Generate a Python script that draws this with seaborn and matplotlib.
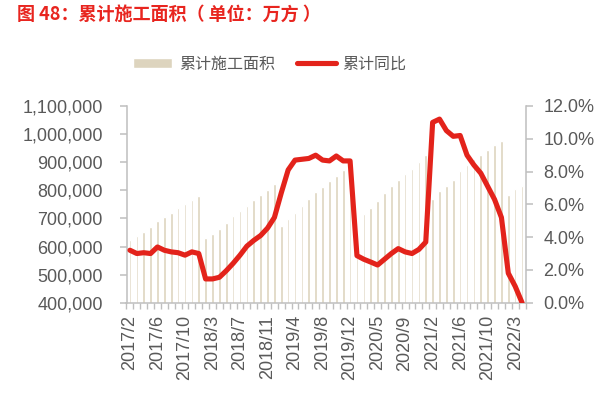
import numpy as np
import pandas as pd
import matplotlib
matplotlib.use("Agg")
import matplotlib.pyplot as plt
import seaborn as sns
from matplotlib.ticker import FuncFormatter, FixedLocator

# ---- data -------------------------------------------------------------
months_2017 = ["2017/%d" % m for m in range(2, 13)]
months_2018 = ["2018/%d" % m for m in range(2, 13)]
months_2019 = ["2019/%d" % m for m in range(2, 13)]
months_2020 = ["2020/%d" % m for m in range(2, 13)]
months_2021 = ["2021/%d" % m for m in range(2, 13)]
months_2022 = ["2022/2", "2022/3", "2022/4"]
categories = months_2017 + months_2018 + months_2019 + months_2020 + months_2021 + months_2022

area = [
    624000, 636000, 652000, 670000, 692000, 706000, 720000, 737000, 751000, 767000, 781000,
    632000, 645000, 663000, 685000, 708000, 727000, 745000, 767000, 783000, 802000, 822000,
    674000, 698000, 719000, 743000, 769000, 793000, 811000, 833000, 851000, 873000, 893000,
    560000, 717000, 738000, 762000, 792000, 817000, 838000, 858000, 877000, 901000, 925000,
    769000, 798000, 817000, 838000, 870000, 890000, 910000, 927000, 942000, 960000, 974000,
    784000, 805000, 817000,
]
yoy = [
    3.2, 3.0, 3.05, 3.0, 3.4, 3.2, 3.1, 3.05, 2.9, 3.1, 3.0,
    1.45, 1.45, 1.55, 1.95, 2.4, 2.9, 3.45, 3.8, 4.1, 4.55, 5.2,
    6.7, 8.1, 8.7, 8.75, 8.8, 9.0, 8.7, 8.65, 8.95, 8.65, 8.65,
    2.87, 2.65, 2.48, 2.3, 2.65, 3.0, 3.3, 3.1, 3.0, 3.25, 3.7,
    11.0, 11.2, 10.5, 10.15, 10.2, 9.0, 8.4, 7.9, 7.1, 6.3, 5.2,
    1.8, 1.0, 0.0,
]
left_ticks = [400000, 500000, 600000, 700000, 800000, 900000, 1000000, 1100000]
right_ticks = [0, 2, 4, 6, 8, 10, 12]

title = "图 48：累计施工面积（ 单位：万方 ）"
bar_label = "累计施工面积"
line_label = "累计同比"

# ---- style ------------------------------------------------------------
sns.set_style("white")
plt.rcParams["font.family"] = ["Liberation Sans", "Noto Sans CJK SC", "DejaVu Sans"]

TXT = "#595959"
AX = "#BFBFBF"
BAR = "#DDD4BE"
RED = "#E3231B"

df = pd.DataFrame({"month": categories, "area": area, "yoy": yoy})
df["pos"] = np.arange(len(df))

fig = plt.figure(figsize=(6.03, 3.97), dpi=100)
ax = fig.add_axes([126.5 / 603, 94.3 / 397, 399 / 603, 196.7 / 397])

sns.barplot(data=df, x="month", y="area", order=categories, color=BAR,
            saturation=1, width=0.38, ax=ax, label=bar_label)
ax.set_ylim(400000, 1100000)
ax.set_xlim(-0.5, len(categories) - 0.5)

ax2 = ax.twinx()
sns.lineplot(data=df, x="pos", y="yoy", color=RED, linewidth=3.7, ax=ax2,
             label=line_label, solid_capstyle="round", solid_joinstyle="round")
ax2.set_ylim(0, 12)
ax2.set_xlim(-0.5, len(categories) - 0.5)

# axes styling
for a in (ax, ax2):
    a.set_xlabel("")
    a.set_ylabel("")
    for s in a.spines.values():
        s.set_visible(False)
    if a.get_legend():
        a.get_legend().remove()

ax.spines["left"].set_visible(True)
ax.spines["left"].set_color(AX)
ax.spines["left"].set_linewidth(1.1)
ax.spines["bottom"].set_visible(True)
ax.spines["bottom"].set_color(AX)
ax.spines["bottom"].set_linewidth(1.1)
ax2.spines["right"].set_visible(True)
ax2.spines["right"].set_color(AX)
ax2.spines["right"].set_linewidth(1.1)

ax.yaxis.set_major_locator(FixedLocator(left_ticks))
ax.yaxis.set_major_formatter(FuncFormatter(lambda v, p: f"{int(v):,}"))
ax.tick_params(axis="y", which="major", direction="out", length=5, width=1.1,
               color=AX, labelsize=13, labelcolor=TXT, pad=12, left=True)

ax2.yaxis.set_major_locator(FixedLocator(right_ticks))
ax2.yaxis.set_major_formatter(FuncFormatter(lambda v, p: f"{v:.1f}%"))
ax2.tick_params(axis="y", which="major", direction="out", length=5, width=1.1,
                color=AX, labelsize=13, labelcolor=TXT, pad=8, right=True)

xt = list(range(0, len(categories), 4))
ax.set_xticks(xt)
ax.set_xticklabels([categories[i] for i in xt], rotation=90)
ax.set_xticks(np.arange(len(categories) + 1) - 0.5, minor=True)
ax.tick_params(axis="x", which="major", length=0, labelsize=13, labelcolor=TXT, pad=9)
ax.tick_params(axis="x", which="minor", direction="out", length=4, width=1.0,
               color=AX, bottom=True)
ax2.tick_params(axis="x", which="both", bottom=False, top=False, labelbottom=False)
ax.grid(False)
ax2.grid(False)

# legend
h1, l1 = ax.get_legend_handles_labels()
h2, l2 = ax2.get_legend_handles_labels()
leg = fig.legend(h1 + h2, l1 + l2, loc="center", bbox_to_anchor=(270 / 603, 1 - 64 / 397),
                 ncol=2, frameon=False, fontsize=11.5, handlelength=2.45,
                 handleheight=0.6, handletextpad=0.4, columnspacing=1.4)
for t in leg.get_texts():
    t.set_color(TXT)
    t.set_family(["Noto Sans CJK SC", "DejaVu Sans"])

fig.text(17 / 603, 1 - 14 / 397, title, color="#E8251F", fontsize=13,
         fontweight="bold", va="center", ha="left",
         family=["Noto Sans CJK SC", "DejaVu Sans"])

fig.savefig("out.png", dpi=100)
